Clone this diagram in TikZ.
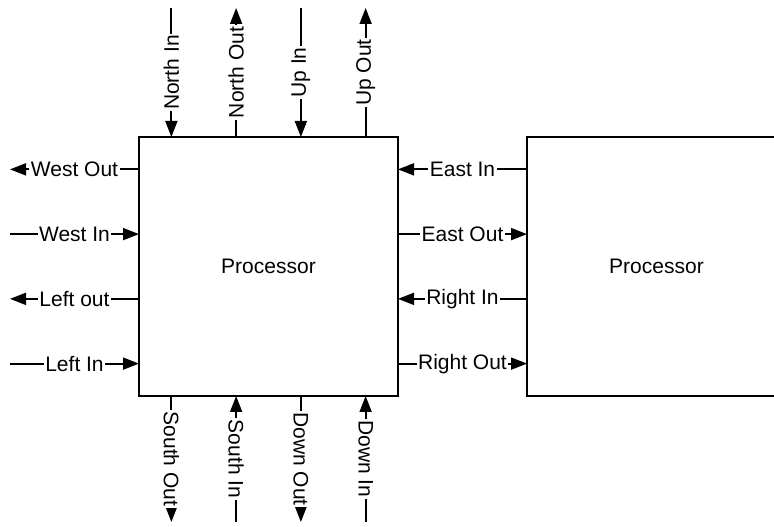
\documentclass[tikz,border=0pt]{standalone}
\usepackage{fontspec}
\setsansfont{Liberation Sans}
\usetikzlibrary{arrows.meta,calc}

\begin{document}
\begin{tikzpicture}[x=1pt,y=1pt,>={Triangle[length=16pt,width=12pt]},line width=1.8pt,
    proc/.style={draw,outer sep=0pt,minimum width=259pt,minimum height=259pt,
        font=\sffamily\fontsize{21}{24}\selectfont},
    port/.style={fill=white,inner xsep=1.5pt,inner ysep=0pt,
        font=\sffamily\fontsize{21}{24}\selectfont},
    portin/.style={->},
    portout/.style={<-}]
    \useasboundingbox (0,0) rectangle (774,527);
    \clip (0,0) rectangle (774,527);

    % Processors
    \node[proc] (pa) at (268.5,260.5) {Processor};
    \node[proc] (pb) at (656.5,260.5) {Processor};

    % Free ends
    \coordinate (topline) at (0,519);
    \coordinate (botline) at (0,5);
    \coordinate (leftline) at (10,0);

    % North / up ports
    \foreach \f/\lbl/\dir [count=\i] in {0.125/North In/portin,0.375/North Out/portout,
        0.625/Up In/portin,0.875/Up Out/portout}{
        \coordinate (n\i) at ($(pa.north west)!\f!(pa.north east)$);
        \coordinate (nt\i) at (n\i |- topline);
        \draw[\dir] (nt\i) -- node[port,rotate=90] {\lbl} (n\i);
    }

    % South / down ports
    \foreach \f/\lbl/\dir [count=\i] in {0.125/South Out/portout,0.375/South In/portin,
        0.625/Down Out/portout,0.875/Down In/portin}{
        \coordinate (s\i) at ($(pa.south west)!\f!(pa.south east)$);
        \coordinate (sb\i) at (s\i |- botline);
        \draw[\dir] (sb\i) -- node[port,rotate=-90] {\lbl} (s\i);
    }

    % West / left ports
    \foreach \f/\lbl/\dir [count=\i] in {0.125/West Out/portout,0.375/West In/portin,
        0.625/Left out/portout,0.875/Left In/portin}{
        \coordinate (w\i) at ($(pa.north west)!\f!(pa.south west)$);
        \coordinate (wl\i) at (w\i -| leftline);
        \draw[\dir] (wl\i) -- node[port] {\lbl} (w\i);
    }

    % East / right ports, to the second processor
    \foreach \f/\lbl/\dir [count=\i] in {0.125/East In/portin,0.375/East Out/portout,
        0.625/Right In/portin,0.875/Right Out/portout}{
        \coordinate (e\i) at ($(pa.north east)!\f!(pa.south east)$);
        \coordinate (er\i) at (e\i -| pb.west);
        \draw[\dir] (er\i) -- node[port] {\lbl} (e\i);
    }
\end{tikzpicture}
\end{document}
